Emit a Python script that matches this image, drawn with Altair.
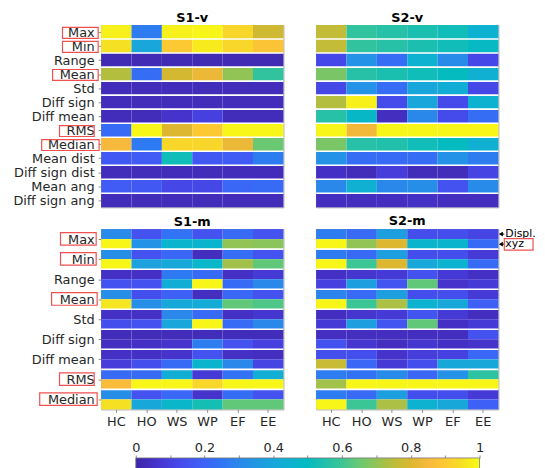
import altair as alt
import pandas as pd

# ---------------- data ----------------
COLS = ["HC", "HO", "WS", "WP", "EF", "EE"]
FEAT_V = ["Max", "Min", "Range", "Mean", "Std", "Diff sign", "Diff mean", "RMS",
          "Median", "Mean dist", "Diff sign dist", "Mean ang", "Diff sign ang"]
FEAT_M = ["Max", "Min", "Range", "Mean", "Std", "Diff sign", "Diff mean", "RMS", "Median"]
KINDS = ["Displ.", "xyz"]

S1V = [
    [0.98, 0.27, 0.98, 0.99, 0.93, 0.78],
    [0.95, 0.40, 0.90, 0.97, 0.93, 0.88],
    [0.02, 0.02, 0.02, 0.02, 0.02, 0.02],
    [0.74, 0.23, 0.79, 0.83, 0.70, 0.58],
    [0.03, 0.03, 0.03, 0.03, 0.03, 0.03],
    [0.03, 0.03, 0.03, 0.03, 0.03, 0.03],
    [0.03, 0.03, 0.06, 0.10, 0.03, 0.03],
    [0.22, 0.99, 0.80, 0.90, 0.99, 0.99],
    [0.85, 0.26, 0.93, 0.93, 0.83, 0.65],
    [0.17, 0.18, 0.52, 0.17, 0.18, 0.27],
    [0.03, 0.03, 0.03, 0.03, 0.03, 0.03],
    [0.18, 0.17, 0.12, 0.12, 0.21, 0.22],
    [0.03, 0.03, 0.03, 0.03, 0.03, 0.03],
]
S2V = [
    [0.76, 0.58, 0.56, 0.54, 0.52, 0.45],
    [0.76, 0.58, 0.56, 0.54, 0.52, 0.49],
    [0.12, 0.33, 0.23, 0.45, 0.31, 0.12],
    [0.67, 0.56, 0.54, 0.52, 0.50, 0.44],
    [0.12, 0.33, 0.23, 0.40, 0.43, 0.12],
    [0.74, 0.98, 0.13, 0.40, 0.13, 0.45],
    [0.56, 0.48, 0.04, 0.30, 0.13, 0.23],
    [0.99, 0.84, 0.99, 0.99, 0.99, 0.99],
    [0.67, 0.56, 0.55, 0.52, 0.50, 0.44],
    [0.33, 0.23, 0.22, 0.23, 0.33, 0.27],
    [0.05, 0.03, 0.09, 0.03, 0.03, 0.11],
    [0.30, 0.44, 0.30, 0.32, 0.15, 0.31],
    [0.04, 0.04, 0.04, 0.05, 0.04, 0.04],
]
# rows: feature x (Displ., xyz)
S1M = [
    [0.31, 0.15, 0.24, 0.15, 0.22, 0.15],
    [0.99, 0.33, 0.46, 0.46, 0.70, 0.69],
    [0.32, 0.15, 0.21, 0.04, 0.23, 0.15],
    [0.99, 0.38, 0.41, 0.47, 0.72, 0.64],
    [0.05, 0.05, 0.26, 0.22, 0.05, 0.08],
    [0.15, 0.15, 0.43, 0.99, 0.22, 0.30],
    [0.32, 0.14, 0.19, 0.04, 0.21, 0.15],
    [0.96, 0.32, 0.41, 0.42, 0.64, 0.62],
    [0.05, 0.05, 0.30, 0.22, 0.05, 0.07],
    [0.14, 0.15, 0.40, 0.99, 0.22, 0.30],
    [0.03, 0.03, 0.03, 0.03, 0.03, 0.03],
    [0.04, 0.05, 0.06, 0.27, 0.15, 0.10],
    [0.05, 0.05, 0.06, 0.15, 0.05, 0.04],
    [0.09, 0.14, 0.22, 0.46, 0.30, 0.11],
    [0.22, 0.22, 0.43, 0.08, 0.24, 0.43],
    [0.86, 0.99, 0.99, 0.93, 0.99, 0.99],
    [0.32, 0.15, 0.21, 0.06, 0.23, 0.15],
    [0.95, 0.41, 0.47, 0.53, 0.64, 0.64],
]
S2M = [
    [0.27, 0.22, 0.37, 0.14, 0.14, 0.11],
    [0.99, 0.70, 0.80, 0.46, 0.46, 0.22],
    [0.27, 0.22, 0.37, 0.14, 0.14, 0.08],
    [0.99, 0.60, 0.80, 0.41, 0.45, 0.22],
    [0.05, 0.07, 0.08, 0.15, 0.08, 0.05],
    [0.10, 0.37, 0.16, 0.64, 0.06, 0.08],
    [0.29, 0.22, 0.37, 0.14, 0.14, 0.08],
    [0.99, 0.60, 0.73, 0.45, 0.41, 0.19],
    [0.04, 0.07, 0.08, 0.16, 0.08, 0.04],
    [0.08, 0.37, 0.16, 0.64, 0.05, 0.08],
    [0.04, 0.04, 0.04, 0.04, 0.04, 0.15],
    [0.15, 0.07, 0.04, 0.07, 0.05, 0.06],
    [0.14, 0.14, 0.06, 0.09, 0.10, 0.21],
    [0.77, 0.21, 0.08, 0.14, 0.41, 0.41],
    [0.27, 0.24, 0.31, 0.21, 0.33, 0.57],
    [0.72, 0.99, 0.99, 0.99, 0.99, 0.99],
    [0.27, 0.22, 0.37, 0.14, 0.14, 0.08],
    [0.99, 0.60, 0.73, 0.45, 0.41, 0.19],
]
BOXED = ["Max", "Min", "Mean", "RMS", "Median"]
CB_TICKS = [0, 0.1, 0.2, 0.3, 0.4, 0.5, 0.6, 0.7, 0.8, 0.9, 1]

# ---------------- style ----------------
STOP_POS = [0, 0.05, 0.1, 0.15, 0.2, 0.25, 0.3, 0.35, 0.4, 0.45, 0.5,
            0.55, 0.6, 0.65, 0.7, 0.75, 0.8, 0.85, 0.9, 0.95, 1]
STOP_COL = ["#3e26a8", "#4530c6", "#4640e0", "#4452f0", "#3d63f6", "#2f76f4",
            "#2b88eb", "#2098e2", "#19a6db", "#0db2d0", "#04bbc0", "#21c0ab",
            "#3cc595", "#6ac872", "#92c455", "#bbbd3a", "#dcb72f", "#f7b93c",
            "#fdc932", "#f5e024", "#f9fb15"]
FONT = "DejaVu Sans"
W, HV, HM = 184, 184, 182
BOX_V = {"Max": (-39, -3), "Min": (-39, -3), "Mean": (-49, -3), "RMS": (-42, -7), "Median": (-60, -2)}
BOX_M = {"Max": (-41, -5), "Min": (-41, -5), "Mean": (-50, -4), "RMS": (-42, -7), "Median": (-62, -4)}
RED = "#f05050"

color_enc = alt.Color("v:Q", legend=None,
                      scale=alt.Scale(type="linear", domain=STOP_POS, range=STOP_COL,
                                      clamp=True, interpolate="rgb"))


def long_df(mat):
    recs = []
    for r, row in enumerate(mat):
        for c, v in zip(COLS, row):
            recs.append({"r0": r, "r1": r + 1, "c": c, "v": v})
    return pd.DataFrame(recs)


def panel(mat, labels, step, title, height, left, bottom, boxes, annot=False):
    nrows = len(mat)
    yscale = alt.Scale(domain=[0, nrows], reverse=True, nice=False, zero=False)
    if left:
        lab = "[" + ",".join("'%s'" % s for s in labels) + "]"
        yaxis = alt.Axis(values=[(i + 0.5) * step for i in range(len(labels))],
                         labelExpr=lab + "[floor(datum.value/%d)]" % step,
                         tickSize=3, labelPadding=4, title=None, domain=False, grid=False,
                         labelOverlap=False, labelFlush=False, labelBound=False)
    else:
        yaxis = None
    if bottom:
        xaxis = alt.Axis(labelAngle=0, tickSize=3, labelPadding=3, title=None,
                         domain=False, grid=False, labelOverlap=False)
    else:
        xaxis = None
    heat = alt.Chart(long_df(mat)).mark_rect().encode(
        x=alt.X("c:N", sort=COLS, scale=alt.Scale(paddingInner=0, paddingOuter=0), axis=xaxis),
        y=alt.Y("r0:Q", scale=yscale, axis=yaxis),
        y2="r1:Q",
        color=color_enc,
    )
    seps = [step * k for k in range(1, len(labels))]
    sep = alt.Chart(pd.DataFrame({"b": seps})).mark_rule(color="white", strokeWidth=1.6).encode(
        y=alt.Y("b:Q", axis=yaxis))
    layers = [heat, sep]
    if left:
        for name, (xl, xr) in boxes.items():
            i = labels.index(name)
            if step == 1:
                y0, y1 = i + 0.17, i + 0.95
            else:
                y0, y1 = 2 * i + 0.35, 2 * i + 1.6
            layers.append(
                alt.Chart(pd.DataFrame({"y0": [y0], "y1": [y1]})).mark_rect(
                    fillOpacity=0, stroke=RED, strokeWidth=1.2).encode(
                    x=alt.value(xl), x2=alt.value(xr), y=alt.Y("y0:Q", axis=yaxis), y2="y1:Q"))
    if annot:
        adf = pd.DataFrame({"t": KINDS, "yc": [i + 0.5 for i in range(len(KINDS))]})
        layers.append(alt.Chart(adf).mark_point(shape="triangle-left", filled=True, color="black",
                                                opacity=1, size=22).encode(
            x=alt.value(W + 2.5), y=alt.Y("yc:Q", axis=yaxis)))
        layers.append(alt.Chart(adf).mark_rule(color="black", strokeWidth=1).encode(
            x=alt.value(W + 3), x2=alt.value(W + 6), y=alt.Y("yc:Q", axis=yaxis)))
        layers.append(alt.Chart(adf).mark_text(align="left", baseline="middle", font=FONT,
                                               fontSize=11, color="black").encode(
            x=alt.value(W + 7), y=alt.Y("yc:Q", axis=yaxis), text="t:N"))
        layers.append(alt.Chart(pd.DataFrame({"y0": [0.95], "y1": [2.1]})).mark_rect(
            fillOpacity=0, stroke=RED, strokeWidth=1.2).encode(
            x=alt.value(W + 6), x2=alt.value(W + 35), y=alt.Y("y0:Q", axis=yaxis), y2="y1:Q"))
    return alt.layer(*layers).properties(
        width=W, height=height,
        title=alt.TitleParams(text=title, fontSize=13, fontWeight="bold", font=FONT,
                              offset=0, anchor="middle", color="black"))


p1 = panel(S1V, FEAT_V, 1, "S1-v", HV, True, False, BOX_V)
p2 = panel(S2V, FEAT_V, 1, "S2-v", HV, False, False, BOX_V)
p3 = panel(S1M, FEAT_M, 2, "S1-m", HM, True, True, BOX_M)
p4 = panel(S2M, FEAT_M, 2, "S2-m", HM, False, True, BOX_M, annot=True)

# colour bar
CB_LEFT_PX = 35
CB_LEN = 347
lead = CB_LEFT_PX / CB_LEN
grad = alt.LinearGradient(gradient="linear",
                          stops=[alt.GradientStop(offset=o, color=c) for o, c in zip(STOP_POS, STOP_COL)],
                          x1=0, x2=1, y1=0, y2=0)
cb_bar = alt.Chart(pd.DataFrame({"a": [0.0], "b": [1.0]})).mark_rect(
    fill=grad, stroke="#777777", strokeWidth=0.8).encode(
    x=alt.X("a:Q", scale=alt.Scale(domain=[-lead, 1], nice=False, zero=False),
            axis=alt.Axis(orient="top", values=CB_TICKS, tickSize=3, labelPadding=1,
                          labelExpr="(round(datum.value*10) % 2 == 0) ? format(datum.value, '~g') : ''",
                          title=None, domain=False, grid=False, labelFontSize=13,
                          labelOverlap=False, labelFlush=False, labelBound=False)),
    x2="b:Q",
    y=alt.value(0), y2=alt.value(12),
)
cb_space = alt.Chart(pd.DataFrame({"a": [0.0]})).mark_rect(opacity=0).encode(
    x=alt.value(0), x2=alt.value(1), y=alt.value(-23), y2=alt.value(-22))
cb = alt.layer(cb_bar, cb_space).properties(
    width=CB_LEFT_PX + CB_LEN, height=12, view=alt.ViewBackground(strokeOpacity=0))

row1 = alt.hconcat(p1, p2, spacing=29)
row2 = alt.hconcat(p3, p4, spacing=29)
chart = alt.vconcat(row1, row2, cb, spacing=6).properties(
    padding={"left": 4, "top": 1, "right": 0, "bottom": 0}
).resolve_scale(x="independent", y="independent").configure_view(
    stroke="#a6a6a6", strokeWidth=1
).configure_axis(
    labelFont=FONT, labelFontSize=13, labelColor="#262626", tickColor="#8c8c8c",
    labelOverlap=False
)

chart.save("out.html", embed_options={"renderer": "svg", "actions": False})
